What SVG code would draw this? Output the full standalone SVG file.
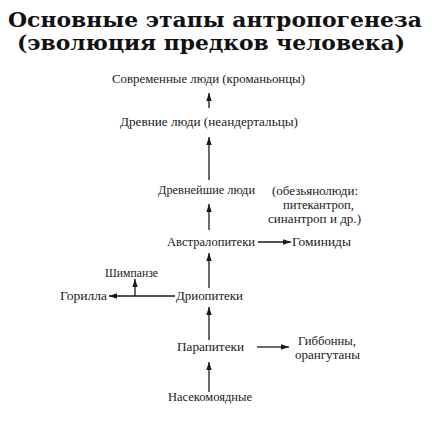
<svg xmlns="http://www.w3.org/2000/svg" width="432" height="424" viewBox="0 0 432 424">
<style>
.title{font-family:"DejaVu Serif","Liberation Serif",serif;font-weight:bold;font-size:20px;fill:#111}
.t{font-family:"Liberation Serif","Times New Roman",serif;font-size:12.5px;fill:#1a1a1a}
.c{text-anchor:middle}
.con line{stroke:#1a1a1a;stroke-width:1.3;fill:none}
</style>
<defs>
<marker id="ah" markerUnits="userSpaceOnUse" markerWidth="9" markerHeight="6" refX="8" refY="3" orient="auto">
<path d="M0,0.3 L8,3 L0,5.7 Z" fill="#1a1a1a"/>
</marker>
</defs>
<rect width="432" height="424" fill="#fff"/>
<g id="title">
<text class="title" x="215" y="27" text-anchor="middle" textLength="414" lengthAdjust="spacingAndGlyphs">Основные этапы антропогенеза</text>
<text class="title" x="211" y="50" text-anchor="middle" textLength="388" lengthAdjust="spacingAndGlyphs">(эволюция предков человека)</text>
</g>
<g id="modern"><text class="t c" x="208.5" y="83" textLength="193" lengthAdjust="spacingAndGlyphs">Современные люди (кроманьонцы)</text></g>
<g id="ancient"><text class="t c" x="209" y="126" textLength="178" lengthAdjust="spacingAndGlyphs">Древние люди (неандертальцы)</text></g>
<g id="oldest"><text class="t c" x="206.5" y="194" textLength="97" lengthAdjust="spacingAndGlyphs">Древнейшие люди</text></g>
<g id="apemen">
<text class="t c" x="315" y="195" textLength="86" lengthAdjust="spacingAndGlyphs">(обезьянолюди:</text>
<text class="t c" x="318.5" y="209" textLength="71" lengthAdjust="spacingAndGlyphs">питекантроп,</text>
<text class="t c" x="314.5" y="223" textLength="93" lengthAdjust="spacingAndGlyphs">синантроп и др.)</text>
</g>
<g id="australopithecus"><text class="t c" x="211" y="246" textLength="88" lengthAdjust="spacingAndGlyphs">Австралопитеки</text></g>
<g id="hominids"><text class="t c" x="321.5" y="246" textLength="59" lengthAdjust="spacingAndGlyphs">Гоминиды</text></g>
<g id="chimp"><text class="t c" x="131.5" y="277" textLength="53" lengthAdjust="spacingAndGlyphs">Шимпанзе</text></g>
<g id="gorilla"><text class="t c" x="83.5" y="300" textLength="47" lengthAdjust="spacingAndGlyphs">Горилла</text></g>
<g id="dryopithecus"><text class="t c" x="209.5" y="300" textLength="67" lengthAdjust="spacingAndGlyphs">Дриопитеки</text></g>
<g id="parapithecus"><text class="t c" x="210.5" y="351" textLength="67" lengthAdjust="spacingAndGlyphs">Парапитеки</text></g>
<g id="gibbons">
<text class="t c" x="327" y="345" textLength="58" lengthAdjust="spacingAndGlyphs">Гиббонны,</text>
<text class="t c" x="327.5" y="359" textLength="65" lengthAdjust="spacingAndGlyphs">орангутаны</text>
</g>
<g id="insectivores"><text class="t c" x="210" y="401" textLength="84" lengthAdjust="spacingAndGlyphs">Насекомоядные</text></g>
<g id="connectors" class="con">
<line x1="209" y1="108" x2="209" y2="93" marker-end="url(#ah)"/>
<line x1="209" y1="180" x2="209" y2="137" marker-end="url(#ah)"/>
<line x1="209" y1="230" x2="209" y2="204" marker-end="url(#ah)"/>
<line x1="209" y1="288" x2="209" y2="253" marker-end="url(#ah)"/>
<line x1="209" y1="340" x2="209" y2="307" marker-end="url(#ah)"/>
<line x1="209" y1="392" x2="209" y2="362" marker-end="url(#ah)"/>
<line x1="258" y1="242" x2="291" y2="242" marker-end="url(#ah)"/>
<line x1="257" y1="347" x2="289" y2="347" marker-end="url(#ah)"/>
<line x1="175" y1="296" x2="109" y2="296" marker-end="url(#ah)"/>
<line x1="135" y1="296" x2="135" y2="279" marker-end="url(#ah)"/>
</g>
</svg>
